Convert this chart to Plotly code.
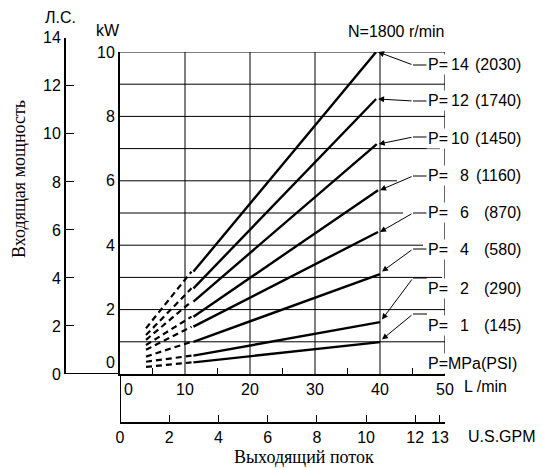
import plotly.graph_objects as go

# ---------------- data ----------------
pressure_mpa = [14, 12, 10, 8, 6, 4, 2, 1]
pressure_psi = [2030, 1740, 1450, 1160, 870, 580, 290, 145]
flow_start = 4.0      # L/min, start of dashed part
flow_break = 11.0     # L/min, dashed -> solid
power_start = [1.42, 1.21, 1.06, 0.90, 0.75, 0.54, 0.38, 0.22]   # kW at flow_start
power_break = [3.18, 2.66, 2.25, 1.78, 1.47, 1.00, 0.57, 0.36]   # kW at flow_break
flow_end = [39.4, 39.4, 39.5, 39.7, 39.7, 40.0, 40.0, 40.0]      # L/min
power_end = [10.0, 8.54, 7.14, 5.71, 4.41, 3.10, 1.61, 0.99]     # kW

lmin_ticks = [0, 10, 20, 30, 40, 50]
lmin_minor = [5, 15, 25, 35, 45]
kw_ticks = [0, 2, 4, 6, 8, 10]
hp_ticks = [0, 2, 4, 6, 8, 10, 12, 14]
gpm_ticks = [0, 2, 4, 6, 8, 10, 12, 13]
LPM_PER_GPM = 3.785411784
KW_PER_HP = 0.7457

# ---------------- geometry (window pixels) ----------------
OFF = 8                                  # default page margin of the html body
W, H = 547 - OFF, 468 - OFF              # figure size so that it fits the window
PL, PR, PT, PB = 65, 445, 37, 423        # plot area (window pixels)
X0, Y0, Y10 = 120, 374, 52               # inner frame (window pixels)
pw, ph = PR - PL, PB - PT
ppk = (Y0 - Y10) / 10.0                  # pixels per kW


def px_x(px):   # window pixel -> L/min
    return (px - X0) / (PR - X0) * 50


def px_y(py):   # window pixel -> kW
    return (Y0 - py) / ppk


def pap_x(px):
    return (px - PL) / pw


def pap_y(py):
    return (PB - py) / ph


SANS = "Liberation Sans, Arial, sans-serif"
SERIF = "Liberation Serif, Times New Roman, serif"
FS = 16

fig = go.Figure()

for i in range(len(pressure_mpa)):
    fig.add_trace(go.Scatter(
        x=[flow_start, flow_break], y=[power_start[i], power_break[i]],
        mode="lines", line=dict(color="black", width=2.2, dash="6px,4px"),
        showlegend=False, hoverinfo="skip"))
    fig.add_trace(go.Scatter(
        x=[flow_break + 0.3, flow_end[i]], y=[power_break[i], power_end[i]],
        mode="lines", line=dict(color="black", width=2.4),
        showlegend=False, hoverinfo="skip"))

# placeholder trace so that the secondary axes exist
fig.add_trace(go.Scatter(x=[None], y=[None], xaxis="x2", yaxis="y2",
                         showlegend=False, hoverinfo="skip"))

xdom = [pap_x(X0), 1.0]
ydom = [pap_y(Y0), pap_y(Y10)]
hp_dom_top = pap_y(Y0 - 14 * KW_PER_HP * ppk)

shapes = []
# vertical gridlines
for v in [10, 20, 30, 40]:
    shapes.append(dict(type="line", xref="x", yref="y", x0=v, x1=v, y0=0, y1=10,
                       line=dict(color="black", width=1)))
# horizontal gridlines (right ends as in the original drawing)
grid_end_px = [445, 445, 442, 423, 403, 397, 440, 445, 445]
for k, e in zip(range(1, 10), grid_end_px):
    shapes.append(dict(type="line", xref="x", yref="y", x0=0, x1=px_x(e), y0=k, y1=k,
                       line=dict(color="black", width=1)))
# top and right frame
shapes.append(dict(type="line", xref="x", yref="y", x0=0, x1=50, y0=10, y1=10,
                   line=dict(color="black", width=1.2)))
shapes.append(dict(type="line", xref="x", yref="y", x0=50, x1=50, y0=0, y1=10,
                   line=dict(color="black", width=1.2)))
# extension of baseline to the HP axis and of kW axis down to GPM axis
shapes.append(dict(type="line", xref="paper", yref="y", x0=0, x1=xdom[0], y0=0, y1=0,
                   line=dict(color="black", width=2)))
shapes.append(dict(type="line", xref="x", yref="paper", x0=0, x1=0, y0=0, y1=ydom[0],
                   line=dict(color="black", width=2)))

# leader lines
leader_px_y = [65, 101, 137, 176, 213, 249, 278, 314]
for i, ly in enumerate(leader_px_y):
    shapes.append(dict(type="line", xref="x", yref="y", x0=px_x(413), x1=px_x(427),
                       y0=px_y(ly), y1=px_y(ly), line=dict(color="black", width=1)))

annotations = []
for i, ly in enumerate(leader_px_y):
    annotations.append(dict(
        x=flow_end[i] + 0.3, y=power_end[i] + (0.08 if i >= 5 else 0.0),
        xref="x", yref="y", ax=px_x(413), ay=px_y(ly), axref="x", ayref="y",
        text="", showarrow=True, arrowhead=2, arrowsize=1.2, arrowwidth=1,
        arrowcolor="black", standoff=0))


def txt(px, py, s, anchor="left", font=None, **kw):
    d = dict(x=pap_x(px), y=pap_y(py), xref="paper", yref="paper", text=s,
             showarrow=False, xanchor=anchor, yanchor="middle",
             font=font or dict(family=SANS, size=FS, color="black"))
    d.update(kw)
    annotations.append(d)


label_px_y = [64, 100, 138, 176, 213, 250, 288, 325]
for i, ty in enumerate(label_px_y):
    txt(426, ty, "P=", "left", bgcolor="white", borderpad=1)
    txt(471, ty, str(pressure_mpa[i]), "right")
    txt(523, ty, "(%d)" % pressure_psi[i], "right")

txt(426, 363, "P=MPa(PSI)", "left", bgcolor="white", borderpad=1)
txt(447, 32, "N=1800 r/min", "right")
txt(60, 17, "Л.С.", "center")
txt(108, 31, "kW", "center")
txt(462, 386, "L /min", "left")
txt(466, 437, "U.S.GPM", "left")
txt(19, 179, "Входящая мощность", "center",
    font=dict(family=SERIF, size=18, color="black"), textangle=-90)
txt(304, 457, "Выходящий поток", "center",
    font=dict(family=SERIF, size=18, color="black"))

tickfont = dict(family=SANS, size=FS, color="black")

fig.update_layout(
    width=W, height=H,
    margin=dict(l=PL - OFF, r=547 - PR, t=PT - OFF, b=468 - PB, pad=0, autoexpand=False),
    paper_bgcolor="white", plot_bgcolor="rgba(0,0,0,0)",
    showlegend=False,
    xaxis=dict(domain=xdom, range=[0, 50], anchor="y", automargin=False,
               showline=True, linecolor="black", linewidth=2,
               tickmode="array", tickvals=[1.3] + lmin_ticks[1:],
               ticktext=[str(t) for t in lmin_ticks], ticks="",
               showgrid=False, zeroline=False, tickfont=tickfont,
               minor=dict(tickvals=lmin_minor, ticks="inside", ticklen=6,
                          tickcolor="black", tickwidth=1, showgrid=False)),
    yaxis=dict(domain=ydom, range=[0, 10], anchor="x", automargin=False,
               showline=True, linecolor="black", linewidth=2,
               tickmode="array", tickvals=[0.35] + kw_ticks[1:],
               ticktext=[str(t) for t in kw_ticks], ticks="",
               showgrid=False, zeroline=False, tickfont=tickfont),
    xaxis2=dict(domain=xdom, range=[0, 50 / LPM_PER_GPM], anchor="free", position=0,
                automargin=False,
                showline=True, linecolor="black", linewidth=2,
                tickmode="array", tickvals=gpm_ticks, ticks="inside", ticklen=7,
                tickcolor="black", tickwidth=1,
                showgrid=False, zeroline=False, tickfont=tickfont),
    yaxis2=dict(domain=[ydom[0], hp_dom_top], range=[0, 14], anchor="free", position=0,
                automargin=False,
                showline=True, linecolor="black", linewidth=2,
                tickmode="array", tickvals=hp_ticks, ticks="inside", ticklen=8,
                tickcolor="black", tickwidth=1,
                showgrid=False, zeroline=False, tickfont=tickfont),
    shapes=shapes, annotations=annotations,
)

fig.write_html("out.html")
